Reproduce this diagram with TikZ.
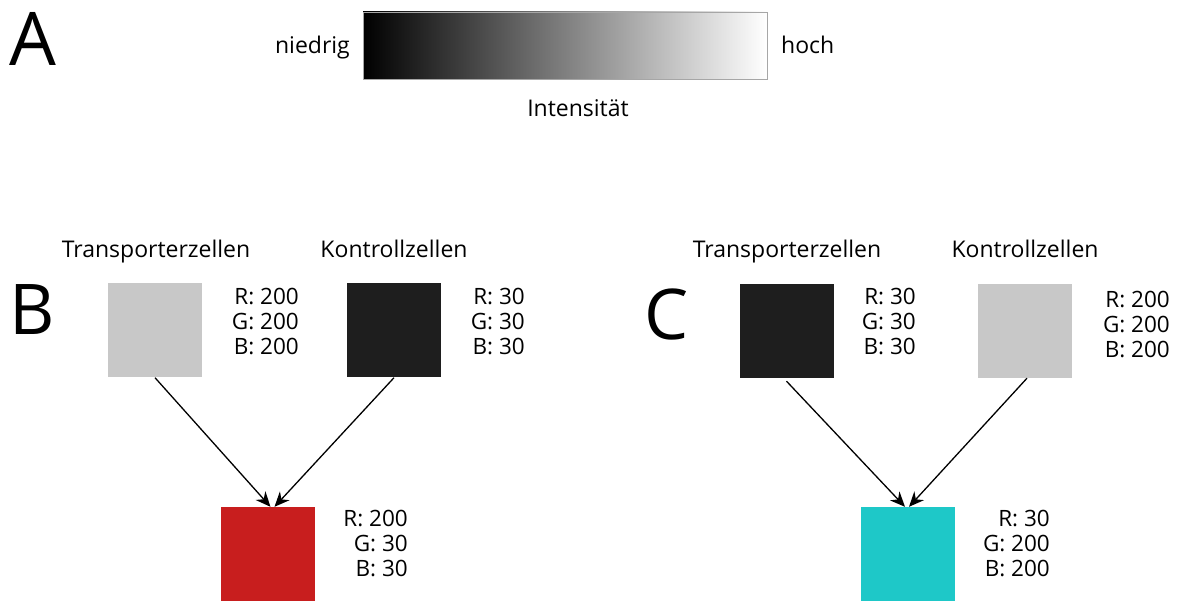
\documentclass[tikz,border=0pt]{standalone}
\usepackage{fontspec}
\setmainfont{Open Sans}
\usetikzlibrary{arrows.meta}
\definecolor{lightcell}{RGB}{200,200,200}
\definecolor{darkcell}{RGB}{30,30,30}
\definecolor{redcell}{RGB}{200,30,30}
\definecolor{cyancell}{RGB}{30,200,200}
\tikzset{
  cellbox/.style={minimum width=94pt,minimum height=94pt,inner sep=0pt,draw=none},
  lbl/.style={font=\fontsize{23}{25}\selectfont,inner sep=0pt,anchor=base},
  rgb/.style={font=\fontsize{22.5}{25}\selectfont,inner sep=0pt,align=right,anchor=north east},
  big/.style={font=\fontsize{70}{80}\selectfont,inner sep=0pt,anchor=base west},
  conn/.style={line width=1.3pt,-{Stealth[length=15pt,width=13pt]}}
}
\begin{document}
\begin{tikzpicture}[x=1pt,y=-1pt]
\useasboundingbox (0,0) rectangle (1178,601);
% Panel A
\node[big,font=\fontsize{74}{80}\selectfont] (la) at (9,66) {A};
\shade[left color=black,right color=white] (363,12) rectangle (767,79);
\draw[draw=gray!70,line width=0.8pt] (363,12) rectangle (767,79);
\node[lbl,anchor=base east] (low) at (350,54) {niedrig};
\node[lbl,anchor=base west] (high) at (781,54) {hoch};
\node[lbl] (int) at (578,117) {Intensität};
% Panel B
\node[big] (lb) at (9,335) {B};
\node[cellbox,fill=lightcell] (b1) at (155,330.5) {};
\node[cellbox,fill=darkcell] (b2) at (394,330.5) {};
\node[cellbox,fill=redcell] (b3) at (267.5,554) {};
\node[lbl] (tb1) at (156,258) {Transporterzellen};
\node[lbl] (tb2) at (394,258) {Kontrollzellen};
\node[rgb] (rb1) at (299,288) {R: 200\\G: 200\\B: 200};
\node[rgb] (rb2) at (525,288) {R: 30\\G: 30\\B: 30};
\node[rgb] (rb3) at (408,510) {R: 200\\G: 30\\B: 30};
\draw[conn] (b1.south) -- ([xshift=3pt]b3.north);
\draw[conn] (b2.south) -- ([xshift=7pt]b3.north);
% Panel C
\node[big] (lc) at (644,340) {C};
\node[cellbox,fill=darkcell] (c1) at (786.5,331) {};
\node[cellbox,fill=lightcell] (c2) at (1025,331) {};
\node[cellbox,fill=cyancell] (c3) at (908,554) {};
\node[lbl] (tc1) at (787,258) {Transporterzellen};
\node[lbl] (tc2) at (1025,258) {Kontrollzellen};
\node[rgb] (rc1) at (916,288) {R: 30\\G: 30\\B: 30};
\node[rgb] (rc2) at (1170,291) {R: 200\\G: 200\\B: 200};
\node[rgb] (rc3) at (1050,510) {R: 30\\G: 200\\B: 200};
\draw[conn] ([yshift=-3pt]c1.south) -- ([xshift=-3pt]c3.north);
\draw[conn] ([xshift=2pt]c2.south) -- ([xshift=1pt]c3.north);
\end{tikzpicture}
\end{document}
